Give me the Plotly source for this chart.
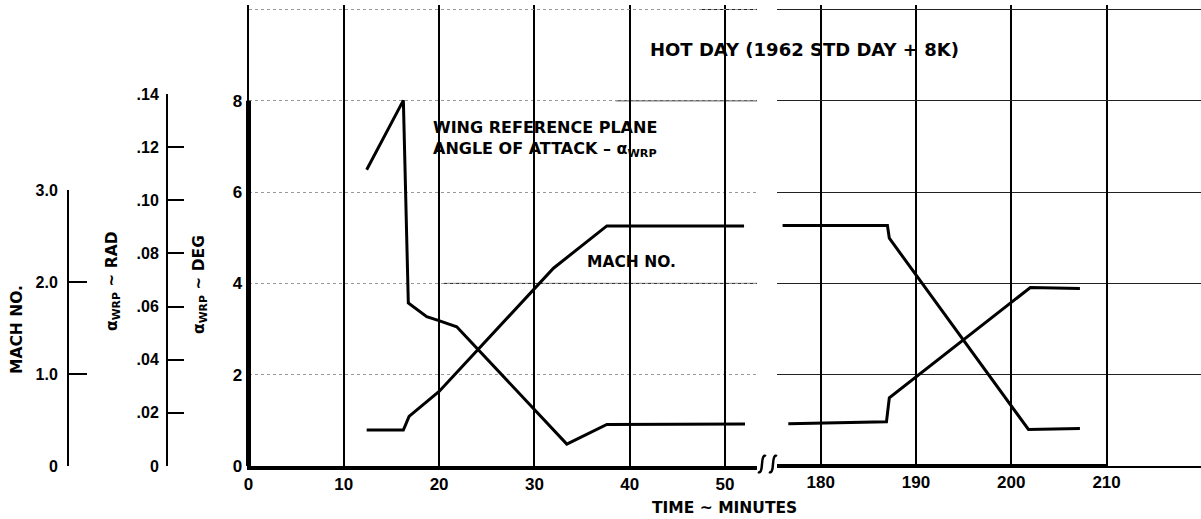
import plotly.graph_objects as go

# ---------------- data ----------------
# left time segment (minutes)
t_alpha_a = [12.4, 16.25, 16.77, 18.7, 19.9, 21.85, 33.4, 37.6, 52.1]
alpha_deg_a = [6.49, 8.01, 3.57, 3.27, 3.19, 3.05, 0.48, 0.91, 0.92]
t_mach_a = [12.4, 16.25, 16.85, 20.0, 32.0, 37.6, 52.0]
mach_a = [0.39, 0.39, 0.54, 0.81, 2.15, 2.61, 2.61]
# right time segment (minutes)
t_alpha_b = [176.0, 187.0, 187.2, 201.8, 207.2]
alpha_deg_b = [5.27, 5.27, 4.99, 0.80, 0.82]
t_mach_b = [176.6, 186.9, 187.2, 202.0, 207.2]
mach_b = [0.46, 0.48, 0.74, 1.94, 1.93]

# tick labels
x_ticks_a = [0, 10, 20, 30, 40, 50]
x_ticks_b = [180, 190, 200, 210]
deg_ticks = [0, 2, 4, 6, 8, 10]
deg_labels = ["0", "2", "4", "6", "8", " "]
rad_ticks = [0, 0.02, 0.04, 0.06, 0.08, 0.10, 0.12, 0.14]
rad_labels = ["0", ".02", ".04", ".06", ".08", ".10", ".12", ".14"]
mach_ticks = [0, 1, 2, 3]
mach_labels = ["0", "1.0", "2.0", "3.0"]

# ---------------- layout helpers ----------------
W, H = 1201, 519


def px(x):
    return x / W


def py(y):
    return 1 - y / H


TXT = "DejaVu Sans"
NUM = "Liberation Sans, Arial, sans-serif"
BLACK = "black"
numfont = dict(family=NUM, size=17, color=BLACK, weight="bold")
smallnum = dict(family=NUM, size=16, color=BLACK, weight="bold")

Y0 = 466          # pixel row of zero
DEG_PX = 45.65    # pixels per degree
X0 = 248.5
MIN_PX = 9.53

fig = go.Figure()
curve = dict(color=BLACK, width=3)
fig.add_trace(go.Scatter(x=t_alpha_a, y=alpha_deg_a, xaxis="x", yaxis="y",
                         mode="lines", line=curve, hoverinfo="skip"))
fig.add_trace(go.Scatter(x=t_alpha_b, y=alpha_deg_b, xaxis="x2", yaxis="y4",
                         mode="lines", line=curve, hoverinfo="skip"))
fig.add_trace(go.Scatter(x=t_mach_a, y=mach_a, xaxis="x", yaxis="y3",
                         mode="lines", line=curve, hoverinfo="skip"))
fig.add_trace(go.Scatter(x=t_mach_b, y=mach_b, xaxis="x2", yaxis="y5",
                         mode="lines", line=curve, hoverinfo="skip"))
# registers the radian scale
fig.add_trace(go.Scatter(x=[None], y=[None], xaxis="x", yaxis="y2",
                         mode="lines", hoverinfo="skip"))

xa_end = 757
xb_start = 777
x_common = dict(showgrid=True, gridcolor=BLACK, gridwidth=2, showline=True,
                linecolor=BLACK, zeroline=False, ticks="",
                tickfont=numfont, ticklabelstandoff=0, fixedrange=True,
                automargin=False)

deg_top = (Y0 - 5) / DEG_PX

fig.update_layout(
    width=W, height=H,
    autosize=False,
    margin=dict(l=0, r=0, t=0, b=0, pad=0),
    paper_bgcolor="white",
    plot_bgcolor="rgba(0,0,0,0)",
    showlegend=False,
    xaxis=dict(domain=[px(X0), px(xa_end)],
               range=[0, (xa_end - X0) / MIN_PX], linewidth=4,
               anchor="y", tickvals=x_ticks_a, **x_common),
    xaxis2=dict(domain=[px(xb_start), 1],
                range=[180 - (820.7 - xb_start) / MIN_PX, 180 + (W - 820.7) / MIN_PX],
                linewidth=2,
                anchor="y4", tickvals=x_ticks_b, **x_common),
    yaxis=dict(domain=[py(Y0), py(5)], range=[0, deg_top], anchor="x",
               tickvals=deg_ticks, ticktext=deg_labels, ticks="",
               showgrid=True, gridcolor="#999", gridwidth=1, griddash="dot",
               showline=True, linewidth=2, linecolor=BLACK, zeroline=False,
               tickfont=numfont, ticklabelstandoff=1, fixedrange=True,
               automargin=False),
    yaxis2=dict(domain=[py(Y0), py(94)], range=[0, 0.14], anchor="free",
                position=px(167), side="left",
                tickvals=rad_ticks, ticktext=rad_labels, ticks="inside",
                ticklen=16, tickwidth=2, tickcolor=BLACK,
                showline=True, linewidth=2, linecolor=BLACK,
                showgrid=False, zeroline=False,
                tickfont=smallnum, ticklabelstandoff=4, fixedrange=True,
                automargin=False),
    yaxis3=dict(domain=[py(Y0), py(190)], range=[0, 3], anchor="free",
                position=px(68), side="left",
                tickvals=mach_ticks, ticktext=mach_labels, ticks="inside",
                ticklen=18, tickwidth=2, tickcolor=BLACK,
                showline=True, linewidth=2, linecolor=BLACK,
                showgrid=False, zeroline=False,
                tickfont=smallnum, ticklabelstandoff=6, fixedrange=True,
                automargin=False),
    yaxis4=dict(domain=[py(Y0), py(5)], range=[0, deg_top], anchor="x2",
                tickvals=deg_ticks, showticklabels=False, ticks="",
                showgrid=True, gridcolor="#222", gridwidth=1,
                showline=False, zeroline=False, fixedrange=True,
                automargin=False),
    yaxis5=dict(domain=[py(Y0), py(190)], range=[0, 3], anchor="x2",
                visible=False, fixedrange=True, automargin=False),
)

# solid portions of the horizontal grid on the left segment
xa_max = (xa_end - X0) / MIN_PX
shapes = []
for yv, xs in [(4, 20.5), (8, 38.5), (10, 47.5)]:
    shapes.append(dict(type="line", xref="x", yref="y", x0=xs, x1=xa_max,
                       y0=yv, y1=yv, line=dict(color="#222", width=1),
                       layer="below"))

# heavy part of the degree axis (0-8) and of the right time axis (to 210)
shapes.append(dict(type="line", xref="paper", yref="y", x0=px(X0), x1=px(X0),
                   y0=0, y1=deg_ticks[-2], line=dict(color=BLACK, width=5)))
shapes.append(dict(type="line", xref="x2", yref="paper",
                   x0=180 - (820.7 - xb_start) / MIN_PX, x1=x_ticks_b[-1],
                   y0=py(Y0), y1=py(Y0), line=dict(color=BLACK, width=4)))

# axis-break squiggles
for cx in (762, 773):
    pts = [(cx - 4, 472), (cx - 0.5, 474), (cx, 464), (cx + 0.5, 454), (cx + 4, 456)]
    p = [(px(a), py(b)) for a, b in pts]
    path = (f"M {p[0][0]},{p[0][1]} Q {p[1][0]},{p[1][1]} {p[2][0]},{p[2][1]} "
            f"Q {p[3][0]},{p[3][1]} {p[4][0]},{p[4][1]}")
    shapes.append(dict(type="path", xref="paper", yref="paper", path=path,
                       line=dict(color=BLACK, width=2.5)))
fig.update_layout(shapes=shapes)


def txt(x, y, text, size, **kw):
    d = dict(x=px(x), y=py(y), xref="paper", yref="paper", text=text,
             showarrow=False, font=dict(family=TXT, size=size, color=BLACK,
                                        weight="bold"))
    d.update(kw)
    fig.add_annotation(**d)


txt(804, 50, "HOT DAY (1962 STD DAY + 8K)", 18, xanchor="center", yanchor="middle")
txt(431, 116, "WING REFERENCE PLANE<br>ANGLE OF ATTACK – α<sub>WRP</sub>", 16,
    xanchor="left", yanchor="top", align="left")
txt(631, 262, "MACH NO.", 15.5, xanchor="center", yanchor="middle")
txt(724, 508, "TIME ~ MINUTES", 15.5, xanchor="center", yanchor="middle")
txt(17, 330, "MACH NO.", 15.5, textangle=-90, xanchor="center", yanchor="middle")
txt(113, 281, "α<sub>WRP</sub> ~ RAD", 15.5, textangle=-90, xanchor="center", yanchor="middle")
txt(200, 285, "α<sub>WRP</sub> ~ DEG", 15.5, textangle=-90, xanchor="center", yanchor="middle")

fig.write_html("out.html", include_plotlyjs=True, config={"displayModeBar": False})
